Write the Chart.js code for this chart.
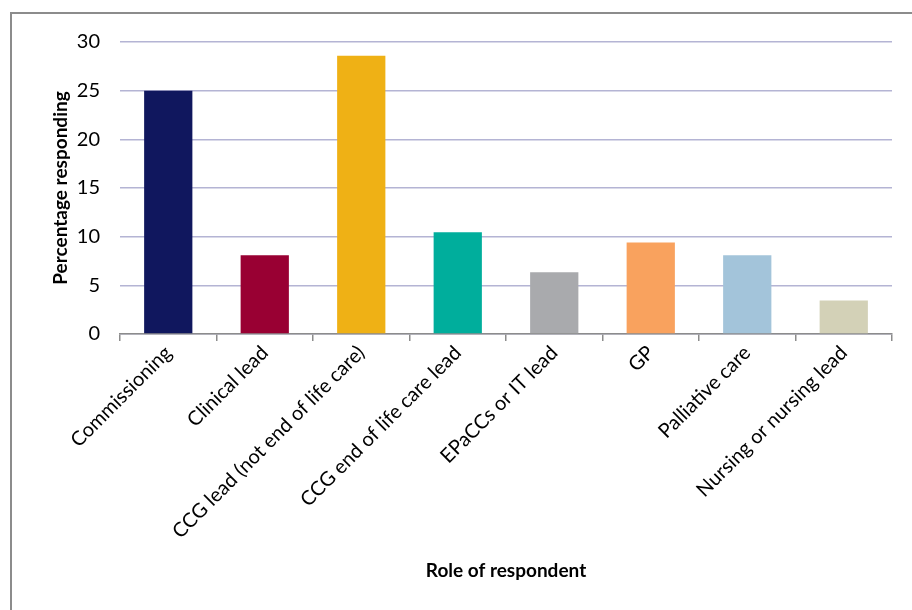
<!DOCTYPE html>
<html>
<head>
<meta charset="utf-8">
<script src="https://cdn.jsdelivr.net/npm/chart.js@4/dist/chart.umd.min.js"></script>
<style>
    html, body { margin: 0; padding: 0; background: #fff; }
    #frame {
        position: absolute; left: 10px; top: 12px; width: 902px; height: 598px;
        border-left: 2px solid #8c8c8c; border-top: 2px solid #8c8c8c;
    }
    #wrap { position: absolute; left: 0; top: 0; width: 912px; height: 610px; }
</style>
</head>
<body>
<div id="frame"></div>
<div id="wrap"><canvas id="roleChart"></canvas></div>
<script>
// Survey responses by role
const roles = [
    'Commissioning',
    'Clinical lead',
    'CCG lead (not end of life care)',
    'CCG end of life care lead',
    'EPaCCs or IT lead',
    'GP',
    'Palliative care',
    'Nursing or nursing lead'
];
const percentages = [25.0, 8.1, 28.6, 10.45, 6.35, 9.4, 8.1, 3.45];
const barColors = ['#10175e', '#990033', '#efb115', '#00ae9c', '#a9aaad', '#f9a25e', '#a3c4da', '#d3d1b7'];
const yTicks = [0, 5, 10, 15, 20, 25, 30];

const fontFamily = 'Lato, "Open Sans", sans-serif';

window.addEventListener('DOMContentLoaded', () => {
    const ctx = document.getElementById('roleChart').getContext('2d');

    new Chart(ctx, {
        type: 'bar',
        data: {
            labels: roles,
            datasets: [{
                data: percentages,
                backgroundColor: barColors,
                borderWidth: 0,
                categoryPercentage: 1,
                barPercentage: 0.5
            }]
        },
        options: {
            responsive: true,
            maintainAspectRatio: false,
            animation: false,
            layout: { padding: { top: 42, right: 20, left: 0, bottom: 0 } },
            plugins: {
                legend: { display: false },
                tooltip: { enabled: false }
            },
            scales: {
                x: {
                    border: { color: '#8c8c8c', width: 1.5 },
                    grid: { drawOnChartArea: false, drawTicks: true, tickLength: 7, color: '#8c8c8c', lineWidth: 1.5 },
                    ticks: {
                        color: '#000',
                        font: { family: fontFamily, size: 20 },
                        minRotation: 45, maxRotation: 45,
                        padding: 0
                    },
                    title: {
                        display: true, text: 'Role of respondent', color: '#000',
                        font: { family: fontFamily, size: 19, weight: 'bold' },
                        padding: { top: 0, bottom: 28 }
                    },
                    afterFit: (scale) => { scale.height = 276; }
                },
                y: {
                    min: 0, max: 30,
                    border: { display: false },
                    grid: { color: '#b4b4d4', lineWidth: 1.5, drawTicks: false },
                    afterBuildTicks: (scale) => { scale.ticks = yTicks.map(v => ({ value: v })); },
                    ticks: {
                        color: '#000',
                        font: { family: fontFamily, size: 20 },
                        padding: 20
                    },
                    title: {
                        display: true, text: 'Percentage responding', color: '#000',
                        font: { family: fontFamily, size: 19, weight: 'bold' },
                        padding: { top: 49, bottom: 0 }
                    },
                    afterFit: (scale) => { scale.width = 120; }
                }
            }
        }
    });
});
</script>
</body>
</html>
